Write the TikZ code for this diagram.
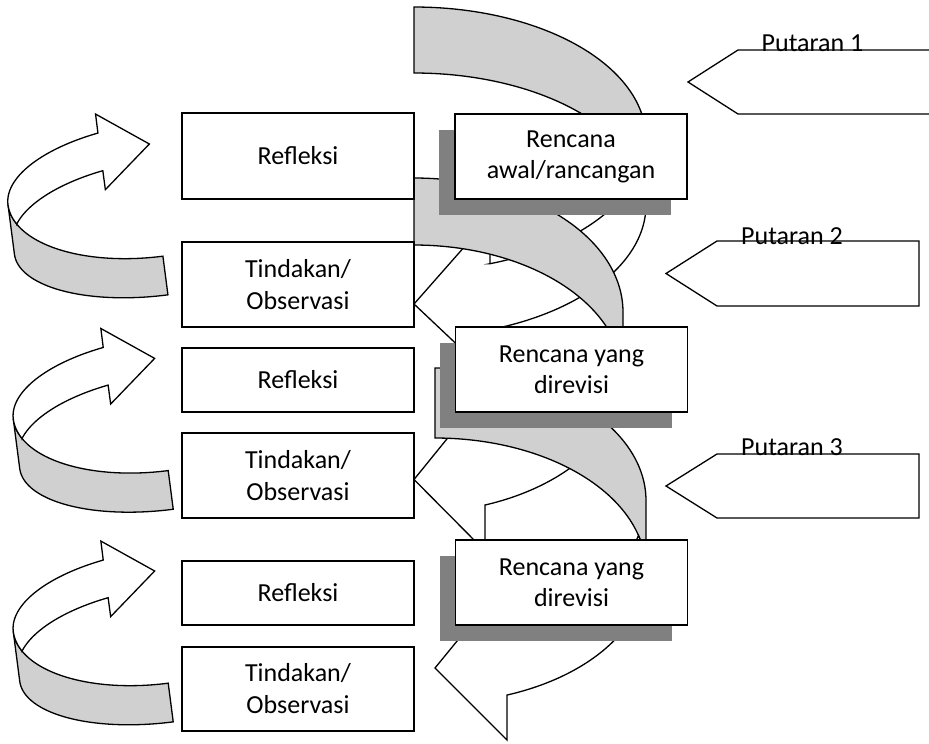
\documentclass[tikz,border=0pt]{standalone}
\usepackage{fontspec}
\setmainfont{Carlito}
\usetikzlibrary{shadows}
\definecolor{bandgray}{RGB}{208,208,208}
\definecolor{shadowgray}{RGB}{128,128,128}
\tikzset{
  outl/.style={draw=black, line width=1.3pt, samples=60},
  lbox/.style={draw=black, line width=1.3pt, fill=white, minimum width=232pt, minimum height=#1, inner sep=0pt, align=center, font=\fontsize{26}{32}\selectfont},
  rbox/.style={draw=black, line width=1.3pt, fill=white, minimum width=232pt, minimum height=85pt, inner sep=0pt, align=center, font=\fontsize{26}{31}\selectfont, general shadow={fill=shadowgray, shadow xshift=-16pt, shadow yshift=-16pt}},
  plabel/.style={anchor=base, font=\fontsize{26}{31}\selectfont, inner sep=0pt},
}
% big curved-left arrow: L T w hR th ah dh
\newcommand\bigcurvarrow[7]{%
  \pgfmathsetmacro\bcL{#1}%
  \pgfmathsetmacro\bcT{#2}%
  \pgfmathsetmacro\bcW{#3}%
  \pgfmathsetmacro\bcH{#4}%
  \pgfmathsetmacro\bcTh{#5}%
  \pgfmathsetmacro\bcAh{#6}%
  \pgfmathsetmacro\bcDh{#7}%
  \pgfmathsetmacro\bcR{\bcL+\bcW}%
  \pgfmathsetmacro\bcCa{\bcT+\bcH}%
  \pgfmathsetmacro\bcCb{\bcT+\bcH+\bcTh}%
  \pgfmathsetmacro\bcX{\bcL+\bcAh}%
  \pgfmathsetmacro\bcTa{acos(\bcAh/\bcW)}%
  \pgfmathsetmacro\bcS{sin(\bcTa)}%
  \pgfmathsetmacro\bcYv{\bcCa+\bcH*\bcS}%
  \pgfmathsetmacro\bcYw{\bcCb+\bcH*\bcS}%
  \pgfmathsetmacro\bcYu{\bcYv-\bcDh}%
  \pgfmathsetmacro\bcYx{\bcYw+\bcDh}%
  \pgfmathsetmacro\bcYt{\bcT+2*\bcH+\bcTh/2}%
  \pgfmathsetmacro\bcTi{asin(\bcTh/(2*\bcH))}%
  \pgfmathsetmacro\bcTj{-\bcTi}%
  \filldraw[outl, fill=bandgray] (\bcL,\bcT)
     -- plot[domain=-90:0] ({\bcL+\bcW*cos(\x)},{\bcCa+\bcH*sin(\x)})
     -- (\bcR,\bcCb)
     -- plot[domain=0:-90] ({\bcL+\bcW*cos(\x)},{\bcCb+\bcH*sin(\x)})
     -- cycle;
  \filldraw[outl, fill=white] (\bcR,\bcCb)
     -- plot[domain=0:\bcTa] ({\bcL+\bcW*cos(\x)},{\bcCb+\bcH*sin(\x)})
     -- (\bcX,\bcYx) -- (\bcL,\bcYt) -- (\bcX,\bcYu) -- (\bcX,\bcYv)
     -- plot[domain=\bcTa:\bcTi] ({\bcL+\bcW*cos(\x)},{\bcCa+\bcH*sin(\x)})
     -- plot[domain=\bcTj:0] ({\bcL+\bcW*cos(\x)},{\bcCb+\bcH*sin(\x)})
     -- cycle;
}
% small curved arrow on the left, placed by its leftmost corner
\newcommand\smallcurvarrow[2]{%
  \begin{scope}[shift={(#1,#2)}, rotate=7.4]
    \filldraw[outl, fill=bandgray] (0,0) -- (0,50)
      -- plot[domain=180:90] ({147+147*cos(\x)},{50+60*sin(\x)})
      -- (147,71)
      -- plot[domain=90:180] ({147+147*cos(\x)},{71*sin(\x)})
      -- cycle;
    \filldraw[outl, fill=white] plot[domain=196.65:250.7] ({147+147*cos(\x)},{38.6+63.7*sin(\x)})
      -- (98.5,-2.4) -- (148,-42) -- (98.5,-78.6)
      -- plot[domain=250.7:180] ({147+147*cos(\x)},{63*sin(\x)})
      -- plot[domain=180:163.35] ({147+147*cos(\x)},{71*sin(\x)})
      -- cycle;
  \end{scope}}
\begin{document}
\begin{tikzpicture}[x=1pt,y=-1pt]
\useasboundingbox (0,0) rectangle (929,744);
% left curved arrows
\smallcurvarrow{8}{204.7}
\smallcurvarrow{13.3}{419.1}
\smallcurvarrow{13.3}{631.7}
% big curved arrows
\bigcurvarrow{414}{7}{232}{132}{66}{76}{46}
\bigcurvarrow{414}{178}{209}{134}{67}{71}{46}
\bigcurvarrow{435}{368}{211}{132.5}{70}{72}{45}
% Putaran pentagons
\filldraw[outl, fill=white] (688,82) -- (738,50) -- (940,50) -- (940,114) -- (738,114) -- cycle;
\node[plabel] (p1) at (812.5,51) {Putaran 1};
\filldraw[outl, fill=white] (666,273.5) -- (717,241) -- (919,241) -- (919,306) -- (717,306) -- cycle;
\node[plabel] (p2) at (792,244) {Putaran 2};
\filldraw[outl, fill=white] (666,486) -- (717,454) -- (919,454) -- (919,518) -- (717,518) -- cycle;
\node[plabel] (p3) at (792,455) {Putaran 3};
% left boxes
\node[lbox=86pt] (ref1) at (298,156) {Refleksi};
\node[lbox=85pt] (tin1) at (298,284.5) {Tindakan/\\Observasi};
\node[lbox=64pt] (ref2) at (298,380) {Refleksi};
\node[lbox=85pt] (tin2) at (298,475.5) {Tindakan/\\Observasi};
\node[lbox=64pt] (ref3) at (298,593) {Refleksi};
\node[lbox=84pt] (tin3) at (298,689) {Tindakan/\\Observasi};
% plan boxes
\node[rbox] (ren1) at (571,156.5) {Rencana\\awal/rancangan};
\node[rbox] (ren2) at (571.5,369.5) {Rencana yang\\direvisi};
\node[rbox] (ren3) at (571.5,582.5) {Rencana yang\\direvisi};
\end{tikzpicture}
\end{document}
